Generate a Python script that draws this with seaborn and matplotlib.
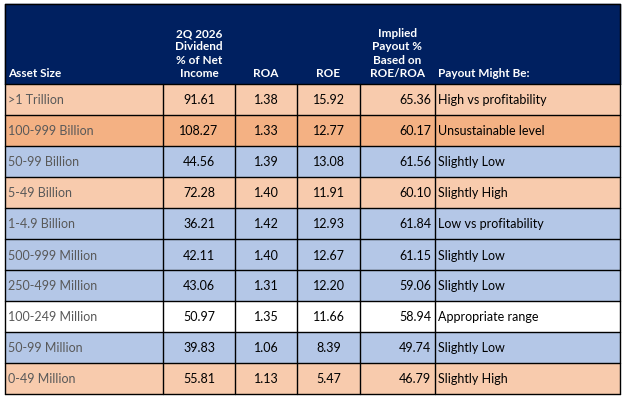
import matplotlib
matplotlib.use("Agg")
import matplotlib.pyplot as plt
from matplotlib.patches import Rectangle
import seaborn as sns

asset_size = [">1 Trillion", "100-999 Billion", "50-99 Billion", "5-49 Billion", "1-4.9 Billion",
              "500-999 Million", "250-499 Million", "100-249 Million", "50-99 Million", "0-49 Million"]
dividend_pct = ["91.61", "108.27", "44.56", "72.28", "36.21", "42.11", "43.06", "50.97", "39.83", "55.81"]
roa = ["1.38", "1.33", "1.39", "1.40", "1.42", "1.40", "1.31", "1.35", "1.06", "1.13"]
roe = ["15.92", "12.77", "13.08", "11.91", "12.93", "12.67", "12.20", "11.66", "8.39", "5.47"]
implied_payout = ["65.36", "60.17", "61.56", "60.10", "61.84", "61.15", "59.06", "58.94", "49.74", "46.79"]
payout_verdict = ["High vs profitability", "Unsustainable level", "Slightly Low", "Slightly High",
                  "Low vs profitability", "Slightly Low", "Slightly Low", "Appropriate range",
                  "Slightly Low", "Slightly High"]
row_kind = ["high", "over", "low", "high", "low", "low", "low", "ok", "low", "high"]
headers = ["Asset Size", "2Q 2026\nDividend\n% of Net\nIncome", "ROA", "ROE",
           "Implied\nPayout %\nBased on\nROE/ROA", "Payout Might Be:"]

fills = {"high": "#F8CBAD", "over": "#F4B183", "low": "#B4C7E7", "ok": "#FFFFFF"}
navy = "#002060"

sns.set_style("white")
plt.rcParams["font.family"] = ["Lato", "DejaVu Sans"]

fig = plt.figure(figsize=(6.24, 4.02), dpi=100)
ax = fig.add_axes([0, 0, 1, 1])
ax.set_xlim(0, 624)
ax.set_ylim(402, 0)
ax.axis("off")

xs = [5, 163, 235, 297, 360, 435, 620]
top, head_h, row_h = 5, 80, 31

ax.add_patch(Rectangle((xs[0], top), xs[-1] - xs[0], head_h, color=navy, zorder=1))
haligns = ["left", "center", "center", "center", "center", "left"]
for j, h in enumerate(headers):
    if haligns[j] == "left":
        x = xs[j] + 3
    else:
        x = (xs[j] + xs[j + 1]) / 2
    ax.text(x, top + head_h - 6, h, ha=haligns[j], va="bottom", color="white",
            fontsize=8.5, fontweight="bold", linespacing=1.25)

cols = [asset_size, dividend_pct, roa, roe, implied_payout, payout_verdict]
for i in range(len(asset_size)):
    y0 = top + head_h + i * row_h
    ax.add_patch(Rectangle((xs[0], y0), xs[-1] - xs[0], row_h,
                           facecolor=fills[row_kind[i]], edgecolor="none", zorder=1))
    yc = y0 + row_h / 2
    for j, col in enumerate(cols):
        if j == 0:
            ax.text(xs[0] + 3, yc, col[i], ha="left", va="center", fontsize=9, color="#595959")
        elif j == 4:
            ax.text(xs[5] - 4, yc, col[i], ha="right", va="center", fontsize=9, color="black")
        elif j == 5:
            ax.text(xs[5] + 3, yc, col[i], ha="left", va="center", fontsize=9, color="black")
        else:
            ax.text((xs[j] + xs[j + 1]) / 2, yc, col[i], ha="center", va="center",
                    fontsize=9, color="black")

bottom = top + head_h + len(asset_size) * row_h
for i in range(len(asset_size) + 1):
    y = top + head_h + i * row_h
    ax.plot([xs[0], xs[-1]], [y, y], color="black", lw=1, zorder=2)
for x in xs:
    ax.plot([x, x], [top + head_h, bottom], color="black", lw=1, zorder=2)
ax.plot([xs[0], xs[0]], [top, top + head_h], color="black", lw=1, zorder=2)
ax.plot([xs[-1], xs[-1]], [top, top + head_h], color="black", lw=1, zorder=2)
ax.plot([xs[0], xs[-1]], [top, top], color="black", lw=1, zorder=2)

fig.savefig("out.png", dpi=100)
